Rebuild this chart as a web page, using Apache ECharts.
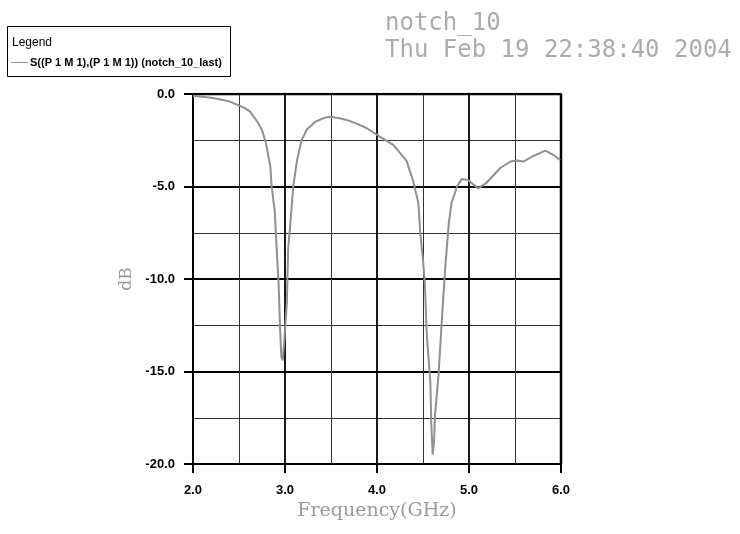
<!DOCTYPE html>
<html>
<head>
<meta charset="utf-8">
<script src="https://cdn.jsdelivr.net/npm/echarts@6/dist/echarts.min.js"></script>
<style>
  html, body { margin: 0; padding: 0; background: #fff; }
  #chart { width: 740px; height: 534px; }
</style>
</head>
<body>
<div id="chart"></div>
<script>
// frequency points (GHz)
var freq = [2.0, 2.1, 2.2, 2.3, 2.4, 2.49, 2.56, 2.62, 2.7, 2.75, 2.79, 2.84, 2.855, 2.89, 2.9,
  2.93, 2.946, 2.96, 2.975, 2.99, 3.02, 3.035, 3.05, 3.09, 3.13, 3.18, 3.24, 3.33, 3.42, 3.49,
  3.58, 3.67, 3.78, 3.89, 4.03, 4.18, 4.32, 4.39, 4.45, 4.47, 4.5, 4.52, 4.54, 4.58, 4.59,
  4.605, 4.62, 4.63, 4.67, 4.7, 4.74, 4.78, 4.81, 4.87, 4.92, 4.99, 5.05, 5.1, 5.19, 5.34,
  5.45, 5.52, 5.59, 5.7, 5.83, 5.92, 5.99];
// S11 in dB
var s11 = [-0.1, -0.15, -0.2, -0.3, -0.41, -0.6, -0.75, -0.95, -1.5, -1.95, -2.6, -3.9, -5.0, -6.4, -7.5,
  -10.2, -12.6, -14.2, -14.4, -13.5, -11.3, -8.3, -7.5, -5.0, -3.6, -2.5, -1.9, -1.5, -1.3, -1.23,
  -1.3, -1.4, -1.6, -1.85, -2.3, -2.76, -3.6, -4.65, -5.9, -7.5, -9.0, -10.2, -12.9, -15.6, -17.8,
  -19.5, -18.8, -17.4, -15.1, -12.6, -9.5, -7.0, -5.9, -5.0, -4.6, -4.65, -4.9, -5.1, -4.8, -4.0,
  -3.65, -3.6, -3.65, -3.35, -3.06, -3.3, -3.57];
var seriesName = "S((P 1 M 1),(P 1 M 1)) (notch_10_last)";

var chart = echarts.init(document.getElementById("chart"));
var pts = [];
for (var i = 0; i < freq.length; i++) {
  pts.push([freq[i], s11[i]]);
}

var option = {
  animation: false,
  backgroundColor: "#fff",
  title: {
    text: "notch_10\nThu Feb 19 22:38:40 2004",
    left: 380,
    top: 5,
    textStyle: {
      fontFamily: "DejaVu Sans Mono",
      fontWeight: "normal",
      fontSize: 24,
      lineHeight: 27,
      color: "#ababab"
    }
  },
  legend: {
    data: [seriesName],
    left: 11,
    top: 57,
    padding: 0,
    itemWidth: 17,
    itemHeight: 10,
    icon: "path://M0,4.5 L17,4.5 L17,5.5 L0,5.5 Z",
    textStyle: { fontFamily: "Liberation Sans", fontSize: 11, fontWeight: "bold", color: "#000", padding: [0, 0, 0, -3] }
  },
  graphic: [
    {
      type: "rect",
      shape: { x: 7.5, y: 26.5, width: 223, height: 50 },
      style: { fill: "#fff", stroke: "#000", lineWidth: 1 },
      z: -1
    },
    {
      type: "text",
      x: 12,
      y: 43,
      style: { text: "Legend", font: "12px 'Liberation Sans'", fill: "#000", verticalAlign: "middle" }
    }
  ],
  grid: { left: 193, right: 179, top: 94, bottom: 70 },
  xAxis: {
    type: "value",
    min: 2,
    max: 6,
    interval: 1,
    name: "Frequency(GHz)",
    nameLocation: "middle",
    nameGap: 37,
    nameTextStyle: { fontFamily: "DejaVu Serif", fontSize: 19, color: "#9a9a9a" },
    axisLabel: {
      formatter: function (v) { return v.toFixed(1); },
      fontFamily: "Liberation Sans",
      fontSize: 13,
      fontWeight: "bold",
      color: "#000",
      margin: 20
    },
    axisLine: { show: true, onZero: false, lineStyle: { color: "#000", width: 2 } },
    axisTick: { show: true, length: 9, lineStyle: { color: "#000", width: 2 } },
    splitLine: { show: true, lineStyle: { color: "#000", width: 1.8 } },
    minorTick: { show: false, splitNumber: 2 },
    minorSplitLine: { show: true, lineStyle: { color: "#333", width: 1 } }
  },
  yAxis: {
    type: "value",
    min: -20,
    max: 0,
    interval: 5,
    name: "dB",
    nameLocation: "middle",
    nameGap: 58,
    nameTextStyle: { fontFamily: "DejaVu Serif", fontSize: 17, color: "#9a9a9a" },
    axisLabel: {
      formatter: function (v) { return v.toFixed(1); },
      fontFamily: "Liberation Sans",
      fontSize: 13,
      fontWeight: "bold",
      color: "#000",
      margin: 18
    },
    axisLine: { show: true, lineStyle: { color: "#000", width: 2 } },
    axisTick: { show: true, length: 9, lineStyle: { color: "#000", width: 2 } },
    splitLine: { show: true, lineStyle: { color: "#000", width: 1.8 } },
    minorTick: { show: false, splitNumber: 2 },
    minorSplitLine: { show: true, lineStyle: { color: "#333", width: 1 } }
  },
  series: [
    {
      name: seriesName,
      type: "line",
      data: pts,
      showSymbol: false,
      lineStyle: { color: "#909090", width: 2 },
      itemStyle: { color: "#909090" },
      z: 5
    },
    {
      // right and top frame of the plot box
      type: "line",
      data: [[2, 0], [6, 0], [6, -20]],
      showSymbol: false,
      silent: true,
      lineStyle: { color: "#000", width: 2.5 },
      z: 4
    }
  ]
};
chart.setOption(option);
</script>
</body>
</html>
